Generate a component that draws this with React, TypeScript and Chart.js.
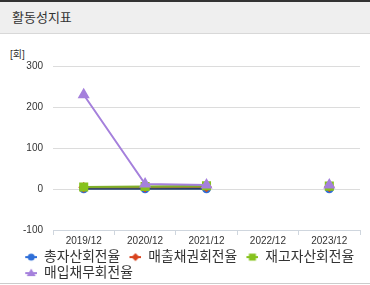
import React, { useEffect, useRef } from "react";
import { Chart, registerables } from "chart.js";

Chart.register(...registerables);

const categories = ["2019/12", "2020/12", "2021/12", "2022/12", "2023/12"];
const totalAssetTurnover = [0.6, 0.6, 0.7, null, 0.6];
const receivablesTurnover = [4, 4.5, 5, null, 5];
const inventoryTurnover = [5, 6, 8, null, 7];
const payablesTurnover = [230, 12, 10, null, 10];
const yTicks = [-100, 0, 100, 200, 300];

const FONT = '"Liberation Sans", "Noto Sans CJK KR", sans-serif';

const COLORS = ["#2f6fd8", "#d8431e", "#86c21d", "#a580dc"];
const LINE_COLORS = ["#1f3c6e", "#9a7b3a", "#7fb02a", "#a580dc"];
const STYLES = ["circle", "rectRot", "rect", "triangle"];

function makeIcon(color: string, style: string): HTMLCanvasElement {
  const c = document.createElement("canvas");
  c.width = 19;
  c.height = 12;
  const g = c.getContext("2d")!;
  g.strokeStyle = color;
  g.fillStyle = color;
  g.lineWidth = 2;
  g.beginPath();
  g.moveTo(7, 6);
  g.lineTo(19, 6);
  g.stroke();
  const cx = 13;
  const cy = 6;
  g.beginPath();
  if (style === "circle") {
    g.arc(cx, cy, 3.5, 0, Math.PI * 2);
  } else if (style === "rectRot") {
    g.moveTo(cx, cy - 4);
    g.lineTo(cx + 4, cy);
    g.lineTo(cx, cy + 4);
    g.lineTo(cx - 4, cy);
    g.closePath();
  } else if (style === "rect") {
    g.rect(cx - 3.5, cy - 3.5, 7, 7);
  } else {
    g.moveTo(cx, cy - 4.5);
    g.lineTo(cx + 4.5, cy + 3);
    g.lineTo(cx - 4.5, cy + 3);
    g.closePath();
  }
  g.fill();
  return c;
}

export default function App() {
  const ref = useRef<HTMLCanvasElement>(null);
  useEffect(() => {
    document.body.style.margin = "0";
    const ctx = ref.current!;
    const icons = COLORS.map((c, i) => makeIcon(c, STYLES[i]));
    const mk = (label: string, data: (number | null)[], i: number, r: number, order: number) => ({
      label,
      data,
      order,
      borderColor: LINE_COLORS[i],
      backgroundColor: COLORS[i],
      pointBackgroundColor: COLORS[i],
      pointBorderColor: COLORS[i],
      pointStyle: STYLES[i] as any,
      pointRadius: r,
      borderWidth: 2,
      spanGaps: false,
    });
    const chart = new Chart(ctx, {
      type: "line",
      data: {
        labels: categories,
        datasets: [
          mk("총자산회전율", totalAssetTurnover, 0, 3.5, 4),
          mk("매출채권회전율", receivablesTurnover, 1, 4, 3),
          mk("재고자산회전율", inventoryTurnover, 2, 5, 2),
          mk("매입채무회전율", payablesTurnover, 3, 5, 1),
        ],
      },
      options: {
        animation: false,
        responsive: false,
        maintainAspectRatio: false,
        layout: { padding: { left: 16, right: 10, top: 14, bottom: 0 } },
        plugins: {
          legend: {
            position: "bottom",
            align: "start",
            labels: {
              usePointStyle: true,
              pointStyleWidth: 19,
              boxHeight: 12,
              padding: 2.2,
              color: "#333",
              font: { family: FONT, size: 13.8 },
              sort: (a: any, b: any) => a.datasetIndex - b.datasetIndex,
              generateLabels: (ch: any) => {
                const items = (Chart.defaults.plugins.legend.labels as any).generateLabels(ch);
                items.forEach((it: any) => {
                  it.pointStyle = icons[it.datasetIndex];
                });
                return items;
              },
            },
          },
          tooltip: { enabled: false },
        },
        scales: {
          x: {
            offset: true,
            afterFit: (axis: any) => {
              axis.height = 18;
            },
            grid: {
              drawOnChartArea: false,
              drawTicks: true,
              tickLength: 5,
              color: "#cfd6de",
              offset: true,
            },
            border: { color: "#cfd6de" },
            ticks: { color: "#333", font: { family: FONT, size: 10 }, padding: 0, maxRotation: 0 },
          },
          y: {
            min: -100,
            max: 300,
            afterBuildTicks: (axis: any) => {
              axis.ticks = yTicks.map((v) => ({ value: v }));
            },
            afterFit: (axis: any) => {
              axis.width = 37;
            },
            grid: { color: "#dcdcdc", drawTicks: false },
            border: { display: false },
            ticks: { color: "#333", font: { family: FONT, size: 10 }, padding: 10 },
          },
        },
      },
    });
    return () => chart.destroy();
  }, []);

  return (
    <div style={{ position: "relative", width: 370, height: 285, background: "#fff", overflow: "hidden" }}>
      <div style={{ position: "absolute", left: 0, top: 0, width: 370, height: 2, background: "#333" }} />
      <div
        style={{
          position: "absolute",
          left: 0,
          top: 2,
          width: 370,
          height: 31,
          background: "#efefef",
          borderBottom: "1px solid #d8d8d8",
        }}
      />
      <div
        style={{
          position: "absolute",
          left: 12,
          top: 9,
          fontFamily: '"Noto Sans CJK KR", sans-serif',
          fontSize: 13,
          color: "#333",
          lineHeight: "16px",
        }}
      >
        활동성지표
      </div>
      <div
        style={{
          position: "absolute",
          left: 10,
          top: 49,
          fontFamily: FONT,
          fontSize: 10,
          color: "#333",
          lineHeight: "12px",
        }}
      >
        [회]
      </div>
      <canvas ref={ref} width={370} height={240} style={{ position: "absolute", left: 0, top: 50 }} />
      <div style={{ position: "absolute", left: 0, top: 283, width: 370, height: 1, background: "#ccc" }} />
    </div>
  );
}
